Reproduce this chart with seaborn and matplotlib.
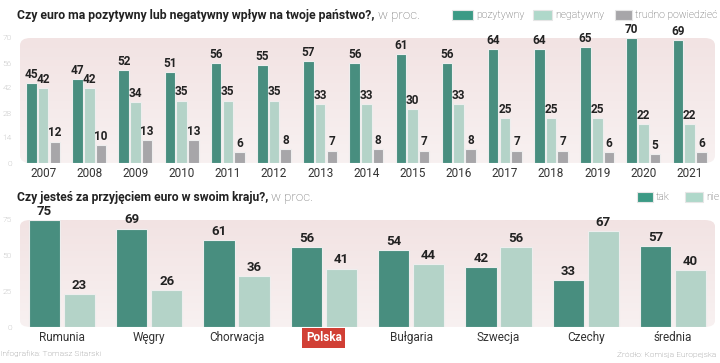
import matplotlib
matplotlib.use("Agg")
import matplotlib.pyplot as plt
from matplotlib.patches import FancyBboxPatch, Rectangle
from matplotlib.colors import LinearSegmentedColormap
import seaborn as sns
import pandas as pd
import numpy as np

# data: top chart
years = [str(y) for y in range(2007, 2022)]
pozytywny = [45, 47, 52, 51, 56, 55, 57, 56, 61, 56, 64, 64, 65, 70, 69]
negatywny = [42, 42, 34, 35, 35, 35, 33, 33, 30, 33, 25, 25, 25, 22, 22]
trudno = [12, 10, 13, 13, 6, 8, 7, 8, 7, 8, 7, 7, 6, 5, 6]
top_series = ["pozytywny", "negatywny", "trudno powiedzieć"]
top_ticks = [0, 14, 28, 42, 56, 70]

# data: bottom chart
countries = ["Rumunia", "Węgry", "Chorwacja", "Polska", "Bułgaria", "Szwecja", "Czechy", "średnia"]
tak = [75, 69, 61, 56, 54, 42, 33, 57]
nie = [23, 26, 36, 41, 44, 56, 67, 40]
bottom_series = ["tak", "nie"]
bottom_ticks = [0, 25, 50, 75]

DARK = "#3c9a85"
LIGHT = "#afd8ca"
GRAY = "#a7a6a9"
FONT = ["Roboto", "DejaVu Sans"]
bg_cmap = LinearSegmentedColormap.from_list("bg", ["#f8f1f1", "#f2e3e3"])

sns.set_theme(style="white")
plt.rcParams["font.family"] = FONT

df_top = pd.DataFrame({
    "rok": years * 3,
    "wartosc": pozytywny + negatywny + trudno,
    "seria": [top_series[0]] * 15 + [top_series[1]] * 15 + [top_series[2]] * 15,
})
df_bot = pd.DataFrame({
    "kraj": countries * 2,
    "wartosc": tak + nie,
    "seria": [bottom_series[0]] * 8 + [bottom_series[1]] * 8,
})

fig = plt.figure(figsize=(7.2, 3.63), dpi=100)
fig.patch.set_facecolor("white")

W, H = 720, 363


def fx(px):
    return px / W


def fy(py):
    return 1 - py / H


ax1 = fig.add_axes([fx(20), fy(163), fx(695), 125 / H])
ax2 = fig.add_axes([fx(20), fy(327), fx(695), 107 / H])


def style_axes(ax, ticks, ymax, xlim):
    ax.set_facecolor("none")
    for s in ax.spines.values():
        s.set_visible(False)
    bg = FancyBboxPatch((0, 0), 1, 1.0, boxstyle="round,pad=0,rounding_size=0.015",
                        transform=ax.transAxes, facecolor="none", edgecolor="none",
                        zorder=0, mutation_aspect=4)
    ax.add_patch(bg)
    grad = np.linspace(0, 1, 64).reshape(-1, 1)
    im = ax.imshow(grad, cmap=bg_cmap, extent=(0, 1, 0, 1), transform=ax.transAxes,
                   aspect="auto", origin="lower", zorder=0)
    im.set_clip_path(bg)
    ax.set_xlim(*xlim)
    ax.set_ylim(0, ymax)
    ax.set_yticks(ticks)
    ax.set_yticklabels([str(t) for t in ticks], fontsize=6, color="#9a9a9a", fontweight="light")
    ax.tick_params(axis="y", length=0, pad=6)
    ax.tick_params(axis="x", length=0, pad=3)
    ax.set_xlabel("")
    ax.set_ylabel("")


sns.barplot(data=df_top, x="rok", y="wartosc", hue="seria", order=years,
            hue_order=top_series, palette=[DARK, LIGHT, GRAY], width=0.76, gap=0.1,
            edgecolor="#eeeeee", linewidth=0.8, legend=False, ax=ax1, zorder=2)
style_axes(ax1, top_ticks, 70, (-0.5, 14.55))
for c in ax1.containers:
    ax1.bar_label(c, fontsize=8.5, fontweight="bold", color="#222222", padding=1.5, clip_on=False)
ax1.set_xticks(range(len(years)))
ax1.set_xticklabels(years, fontsize=8.5, color="#333333")

sns.barplot(data=df_bot, x="kraj", y="wartosc", hue="seria", order=countries,
            hue_order=bottom_series, palette=[DARK, LIGHT], width=0.8, gap=0.1,
            edgecolor="#eeeeee", linewidth=0.8, legend=False, ax=ax2, zorder=2)
style_axes(ax2, bottom_ticks, 75, (-0.48, 7.48))
for c in ax2.containers:
    ax2.bar_label(c, fontsize=9.5, fontweight="bold", color="#222222", padding=1.5, clip_on=False)
ax2.set_xticks(range(len(countries)))
ax2.set_xticklabels(countries, fontsize=8.5, color="#333333")
for lbl in ax2.get_xticklabels():
    if lbl.get_text() == "Polska":
        lbl.set_color("white")
        lbl.set_fontweight("bold")
        lbl.set_bbox(dict(boxstyle="square,pad=0.3", facecolor="#d13f35", edgecolor="none"))

# titles
fig.canvas.draw()
rend = fig.canvas.get_renderer()


def title(px, py, right_px, bold, light):
    t = fig.text(fx(px), fy(py), bold, fontsize=11, fontweight="bold", color="#222222",
                 va="center", ha="left")
    bb = t.get_window_extent(renderer=rend)
    t.set_fontsize(11 * (right_px - px) / bb.width)
    bb = t.get_window_extent(renderer=rend)
    fig.text(bb.x1 / W + fx(3), fy(py), light, fontsize=9.5, color="#666666",
             va="center", ha="left", fontweight="light")


title(17, 15, 375, "Czy euro ma pozytywny lub negatywny wpływ na twoje państwo?,", "w proc.")
title(17, 197, 270, "Czy jesteś za przyjęciem euro w swoim kraju?,", "w proc.")


def legend_item(px, py, w, color, label):
    fig.patches.append(Rectangle((fx(px), fy(py + 5)), fx(w), 10 / H, facecolor=color,
                                 edgecolor="#e6e6e6", linewidth=0.8,
                                 transform=fig.transFigure, figure=fig))
    fig.text(fx(px + w + 3), fy(py), label, fontsize=7.5, color="#555555", va="center",
             ha="left", fontweight="light")


legend_item(452, 15, 21, DARK, "pozytywny")
legend_item(533, 15, 19, LIGHT, "negatywny")
legend_item(615, 15, 17, GRAY, "trudno powiedzieć")
legend_item(637, 197, 16, DARK, "tak")
legend_item(685, 197, 18, LIGHT, "nie")

fig.text(fx(0), fy(354), "Infografika: Tomasz Sitarski", fontsize=6, color="#777777",
         va="center", ha="left", fontweight="light")
fig.text(fx(716), fy(354), "Źródło: Komisja Europejska", fontsize=6, color="#777777",
         va="center", ha="right", fontweight="light")

fig.savefig("out.png", dpi=100, facecolor="white")
